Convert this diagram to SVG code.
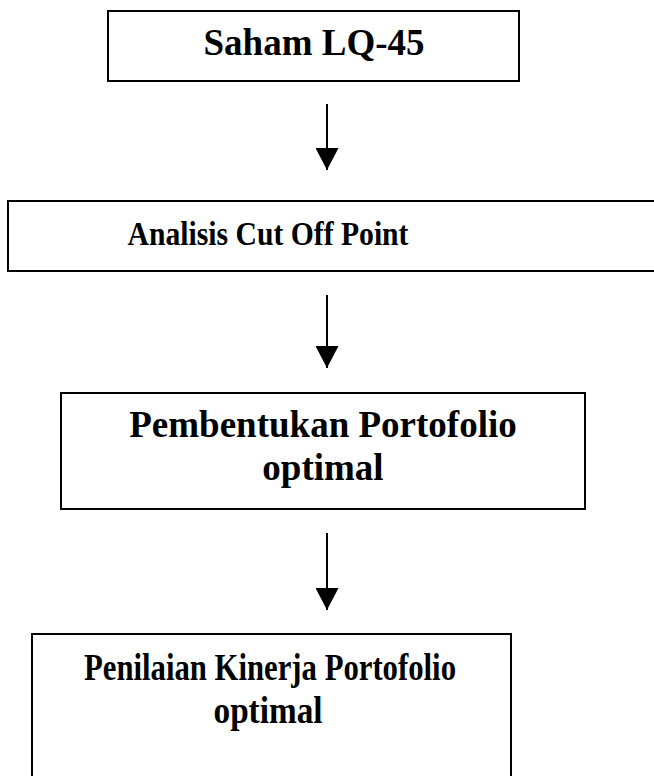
<svg xmlns="http://www.w3.org/2000/svg" width="654" height="776" viewBox="0 0 654 776">
<style>
.box{fill:#fff;stroke:#000;stroke-width:2}
.t{font-family:"Liberation Serif","Times New Roman",serif;font-weight:bold;fill:#000;text-anchor:middle}
.ln{stroke:#000;stroke-width:2;fill:none}
</style>
<defs>
<marker id="ah" markerUnits="userSpaceOnUse" markerWidth="23" markerHeight="23" viewBox="0 0 23 23" refX="22" refY="11.5" orient="auto">
<path d="M0,0 L22,11.5 L0,23 Z" fill="#000"/>
</marker>
</defs>
<rect width="654" height="776" fill="#fff"/>
<g id="n1">
<rect class="box" x="108" y="11" width="411" height="70"/>
<text class="t" x="314" y="55" font-size="37">Saham LQ-45</text>
</g>
<g id="n2">
<rect class="box" x="8" y="201" width="650" height="70"/>
<text class="t" x="268" y="245" font-size="34" textLength="281" lengthAdjust="spacingAndGlyphs">Analisis Cut Off Point</text>
</g>
<g id="n3">
<rect class="box" x="61" y="393" width="524" height="116"/>
<text class="t" x="323" y="437" font-size="37">Pembentukan Portofolio</text>
<text class="t" x="323" y="480" font-size="37">optimal</text>
</g>
<g id="n4">
<rect class="box" x="32" y="634" width="479" height="160"/>
<text class="t" x="270" y="680" font-size="38" textLength="372" lengthAdjust="spacingAndGlyphs">Penilaian Kinerja Portofolio</text>
<text class="t" x="268" y="723" font-size="38" textLength="109" lengthAdjust="spacingAndGlyphs">optimal</text>
</g>
<g id="connectors">
<line class="ln" x1="327" y1="104" x2="327" y2="170" marker-end="url(#ah)"/>
<line class="ln" x1="327" y1="295" x2="327" y2="368" marker-end="url(#ah)"/>
<line class="ln" x1="327" y1="533" x2="327" y2="610" marker-end="url(#ah)"/>
</g>
</svg>
